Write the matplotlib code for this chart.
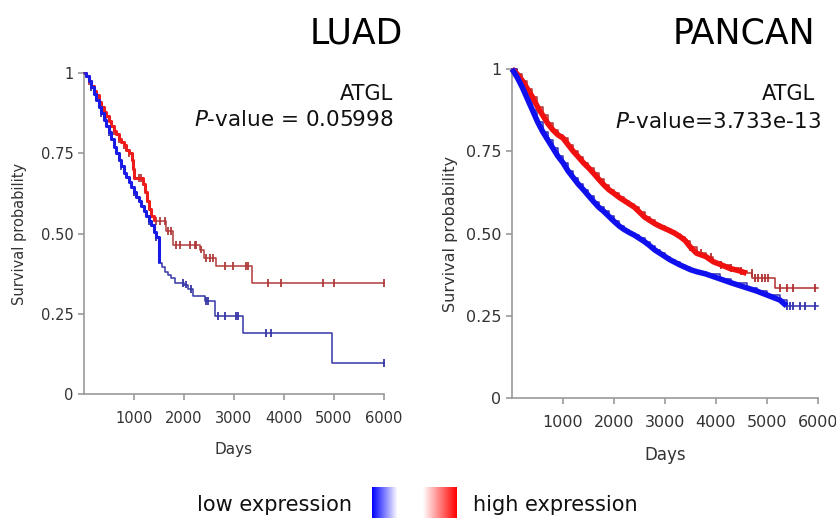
import numpy as np
import matplotlib.pyplot as plt
from matplotlib.colors import LinearSegmentedColormap

# LUAD - step times (days) and survival probability
luad_high_t = [0, 50, 100, 150, 200, 250, 300, 350, 400, 450, 500, 550, 600, 650, 700,
               750, 800, 850, 900, 960, 990, 1010, 1180, 1220, 1260, 1300, 1340, 1400,
               1650, 1790, 2330, 2400, 2650, 3370]
luad_high_s = [1.0, 0.99, 0.975, 0.96, 0.945, 0.93, 0.91, 0.895, 0.88, 0.865, 0.85, 0.835,
               0.82, 0.81, 0.795, 0.785, 0.775, 0.76, 0.75, 0.73, 0.70, 0.672, 0.655, 0.63,
               0.60, 0.575, 0.555, 0.538, 0.508, 0.465, 0.45, 0.424, 0.398, 0.346]
luad_high_cens = [100, 200, 300, 450, 600, 700, 800, 900, 1100, 1150, 1447, 1513, 1613,
                  1680, 1747, 1847, 1913, 2113, 2213, 2247, 2347, 2447, 2513, 2580, 2813,
                  2980, 3247, 3280, 3680, 3947, 4780, 5000, 6000]

luad_low_t = [0, 50, 100, 150, 200, 250, 300, 350, 400, 450, 500, 550, 600, 650, 700, 750,
              800, 850, 900, 950, 1000, 1050, 1100, 1150, 1200, 1250, 1300, 1350, 1400,
              1450, 1500, 1560, 1620, 1680, 1740, 1820, 2000, 2080, 2180, 2420, 2620, 3180,
              4960]
luad_low_s = [1.0, 0.99, 0.975, 0.955, 0.935, 0.915, 0.895, 0.875, 0.855, 0.835, 0.815,
              0.795, 0.77, 0.75, 0.73, 0.71, 0.69, 0.675, 0.66, 0.645, 0.63, 0.615, 0.60,
              0.585, 0.57, 0.555, 0.54, 0.525, 0.505, 0.49, 0.408, 0.395, 0.38, 0.37, 0.36,
              0.346, 0.341, 0.327, 0.306, 0.289, 0.242, 0.19, 0.097]
luad_low_cens = [150, 350, 500, 750, 1000, 1300, 1450, 1980, 2047, 2147, 2447, 2480, 2680,
                 2813, 3047, 3080, 3647, 3747, 6000]

# PANCAN
pan_high_t = [0, 100, 200, 300, 400, 500, 600, 700, 800, 900, 1000, 1100, 1200, 1300, 1400,
              1500, 1600, 1700, 1800, 1900, 2000, 2100, 2200, 2300, 2400, 2500, 2600, 2700,
              2800, 2900, 3000, 3100, 3200, 3300, 3400, 3490, 3620, 3800, 3950, 4100, 4270,
              4450, 4600, 4700, 5155]
pan_high_s = [1.0, 0.985, 0.965, 0.94, 0.915, 0.885, 0.86, 0.835, 0.815, 0.8, 0.79, 0.77,
              0.75, 0.733, 0.715, 0.7, 0.683, 0.665, 0.648, 0.633, 0.622, 0.61, 0.60, 0.59,
              0.58, 0.565, 0.55, 0.54, 0.53, 0.522, 0.515, 0.508, 0.50, 0.49, 0.478, 0.46,
              0.44, 0.43, 0.414, 0.405, 0.394, 0.387, 0.379, 0.364, 0.333]
pan_high_cens = [3500, 3700, 3900, 4100, 4300, 4500, 4698, 4763, 4828, 4894, 4959, 5024,
                 5253, 5384, 5514, 5939]

pan_low_t = [0, 100, 200, 300, 400, 500, 600, 700, 800, 900, 1000, 1100, 1200, 1300, 1400,
             1500, 1600, 1700, 1800, 1900, 2000, 2100, 2200, 2300, 2400, 2500, 2600, 2700,
             2800, 2900, 3000, 3100, 3200, 3300, 3400, 3500, 3620, 3800, 4080, 4300, 4600,
             4800, 5000, 5250, 5384]
pan_low_s = [1.0, 0.975, 0.945, 0.91, 0.875, 0.84, 0.81, 0.785, 0.76, 0.735, 0.715, 0.69,
             0.67, 0.65, 0.633, 0.615, 0.597, 0.58, 0.567, 0.552, 0.537, 0.523, 0.512,
             0.503, 0.495, 0.485, 0.475, 0.463, 0.45, 0.44, 0.43, 0.42, 0.412, 0.404, 0.397,
             0.39, 0.384, 0.377, 0.362, 0.35, 0.335, 0.325, 0.313, 0.298, 0.28]
pan_low_cens = [5384, 5449, 5514, 5645, 5743, 5939]

XMAX = 6000


def km(ax, t, s, cens, line_col, dense_col, dense_until, lw_dense, smooth=False):
    t = np.array(t + [XMAX])
    s = np.array(s + [s[-1]])
    ax.step(t, s, where='post', color=line_col, lw=1.1, clip_on=False, zorder=3)
    m = t <= dense_until
    td = np.append(t[m], dense_until)
    sd = np.append(s[m], s[m][-1])
    if smooth:
        # very many small steps: drawn as a thick band
        ax.plot(t[m], s[m], color=dense_col, lw=lw_dense, clip_on=False, zorder=4,
                solid_capstyle='butt')
    else:
        ax.step(td, sd, where='post', color=dense_col, lw=lw_dense, clip_on=False,
                zorder=4, solid_capstyle='butt')
    c = np.array(cens)
    idx = np.searchsorted(t, c, side='right') - 1
    ys = s[idx]
    ax.vlines(c, ys - 0.012, ys + 0.012, color=line_col, lw=1.3, clip_on=False, zorder=3)


def style(ax, fs_tick, fs_lab):
    ax.set_xlim(0, XMAX)
    ax.set_ylim(0, 1)
    for sp in ['top', 'right']:
        ax.spines[sp].set_visible(False)
    for sp in ['left', 'bottom']:
        ax.spines[sp].set_color('#999999')
        ax.spines[sp].set_linewidth(1.2)
    ax.set_xticks([1000, 2000, 3000, 4000, 5000, 6000])
    ax.set_yticks([0, 0.25, 0.5, 0.75, 1])
    ax.set_yticklabels(['0', '0.25', '0.50', '0.75', '1'])
    ax.tick_params(colors='#999999', labelcolor='#333333', labelsize=fs_tick, length=4,
                   width=1.2)
    ax.tick_params(axis='x', pad=8)
    ax.set_xlabel('Days', fontsize=fs_lab, color='#333333', labelpad=12)


fig = plt.figure(figsize=(8.37, 5.18), dpi=100)

ax1 = fig.add_axes([84 / 837, 124 / 518, 300 / 837, 321 / 518])
km(ax1, luad_high_t, luad_high_s, luad_high_cens, '#b03a3a', '#ee1c1c', 1400, 2.2)
km(ax1, luad_low_t, luad_low_s, luad_low_cens, '#3535a5', '#1a1ae6', 1500, 2.2)
style(ax1, 10.5, 11)
ax1.set_ylabel('Survival probability', fontsize=10.5, color='#333333', labelpad=10)
ax1.text(1.03, 0.935, 'ATGL', transform=ax1.transAxes, ha='right', va='center',
         fontsize=15, color='#111111')
ax1.text(1.03, 0.855, '$P$-value = 0.05998', transform=ax1.transAxes, ha='right',
         va='center', fontsize=15.5, color='#111111')

ax2 = fig.add_axes([512 / 837, 120 / 518, 306 / 837, 329 / 518])
km(ax2, pan_high_t, pan_high_s, pan_high_cens, '#b03030', '#f01010', 4600, 4.0, True)
km(ax2, pan_low_t, pan_low_s, pan_low_cens, '#3030b0', '#1010ee', 5384, 4.0, True)
style(ax2, 11.5, 12)
ax2.set_ylabel('Survival probability', fontsize=11.5, color='#333333', labelpad=6)
ax2.text(0.99, 0.925, 'ATGL', transform=ax2.transAxes, ha='right', va='center',
         fontsize=15, color='#111111')
ax2.text(1.01, 0.84, '$P$-value=3.733e-13', transform=ax2.transAxes, ha='right',
         va='center', fontsize=15.5, color='#111111')

fig.text(403 / 837, 1 - 44 / 518, 'LUAD', ha='right', va='baseline', fontsize=25)
fig.text(815 / 837, 1 - 44 / 518, 'PANCAN', ha='right', va='baseline', fontsize=25)

# legend gradient
cmap = LinearSegmentedColormap.from_list('lh', [(0, '#0000ff'), (0.3, '#ffffff'),
                                                (0.6, '#ffffff'), (1, '#ff0000')])
lax = fig.add_axes([372 / 837, 0, 85 / 837, 31 / 518])
lax.imshow(np.linspace(0, 1, 256).reshape(1, -1), aspect='auto', cmap=cmap)
lax.axis('off')
fig.text(352 / 837, 13 / 518, 'low expression', ha='right', va='center', fontsize=15,
         color='#111111')
fig.text(473 / 837, 13 / 518, 'high expression', ha='left', va='center', fontsize=15,
         color='#111111')

fig.savefig('out.png', dpi=100)
